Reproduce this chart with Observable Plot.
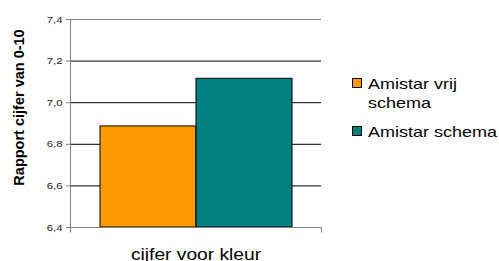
<!DOCTYPE html>
<html><head><meta charset="utf-8">
<script src="https://cdn.jsdelivr.net/npm/d3@7"></script>
<script src="https://cdn.jsdelivr.net/npm/@observablehq/plot@0.6"></script>
<style>
html,body{margin:0;padding:0;background:#fff;}
#wrap{position:relative;width:499px;height:261px;font-family:"Liberation Sans",Arial,sans-serif;overflow:hidden;}
#legend{position:absolute;left:352px;top:74px;}
.item{position:relative;margin-bottom:10px;}
.sw{position:absolute;left:0;top:4px;width:8px;height:8px;border:1px solid #000;}
.lab{margin-left:16px;width:112px;font-size:15px;line-height:19px;color:#000;transform:scaleX(1.2);transform-origin:left top;}
</style></head><body><div id="wrap"></div>
<script>
const series = ["Amistar vrij schema", "Amistar schema"];
const values = [6.886, 7.115];
const colors = ["#FF9900", "#008080"];
const yTicks = [6.4, 6.6, 6.8, 7.0, 7.2, 7.4];
const yLabel = "Rapport cijfer van 0-10";
const xLabel = "cijfer voor kleur";

const data = series.map((s, i) => ({series: s, value: values[i]}));
const fmt = d => d.toFixed(1).replace(".", ",");

function axisFrame(index, scales, vals, dim) {
  const {width, height, marginLeft, marginRight, marginTop, marginBottom} = dim;
  const x0 = marginLeft + 0.5, x1 = width - marginRight + 0.5;
  const y0 = marginTop + 0.5, y1 = height - marginBottom + 0.5;
  const g = d3.create("svg:g").attr("fill", "none").attr("stroke", "#808080");
  g.append("path").attr("d", `M${x0},${y0}V${y1 + 5}M${x0},${y1}H${x1}V${y1 + 5}`);
  return g.node();
}

const chart = Plot.plot({
  width: 499,
  height: 261,
  marginLeft: 70,
  marginRight: 178,
  marginTop: 19,
  marginBottom: 34,
  style: {fontFamily: "Liberation Sans, Arial, sans-serif", background: "white"},
  x: {type: "band", domain: series, paddingInner: 0, paddingOuter: 0.3, axis: null},
  y: {domain: [6.4, 7.4], axis: null},
  color: {domain: series, range: colors},
  marks: [
    Plot.ruleY(yTicks.slice(1, -1), {stroke: "#000"}),
    Plot.ruleY(yTicks.slice(-1), {stroke: "#808080"}),
    Plot.barY(data, {x: "series", y1: 6.4, y2: "value", fill: "series", stroke: "#000", strokeWidth: 1}),
    axisFrame,
    Plot.axisY({ticks: yTicks, tickFormat: fmt, tickSize: 4, tickPadding: 4, stroke: "#808080", fill: "#222", fontSize: 9.5, label: null}),
    Plot.text([xLabel], {text: d => d, frameAnchor: "bottom", dy: 32, lineAnchor: "bottom", fontSize: 16, fill: "#000"}),
    Plot.text([yLabel], {text: d => d, frameAnchor: "left", textAnchor: "middle", rotate: -90, dx: -51.5, dy: -16, lineAnchor: "middle", fontSize: 14.5, fontWeight: "bold", fill: "#000"})
  ]
});

const wrap = document.getElementById("wrap");
wrap.appendChild(chart);

d3.select(chart).selectAll("text").each(function() {
  if (this.textContent === yLabel) return;
  const len = this.getComputedTextLength();
  this.setAttribute("textLength", (len * 1.2).toFixed(2));
  this.setAttribute("lengthAdjust", "spacingAndGlyphs");
});

const legend = document.createElement("div");
legend.id = "legend";
series.forEach((s, i) => {
  const item = document.createElement("div");
  item.className = "item";
  const sw = document.createElement("div");
  sw.className = "sw";
  sw.style.background = colors[i];
  const lab = document.createElement("div");
  lab.className = "lab";
  lab.textContent = s;
  item.appendChild(sw);
  item.appendChild(lab);
  legend.appendChild(item);
});
wrap.appendChild(legend);
</script>
</body></html>
